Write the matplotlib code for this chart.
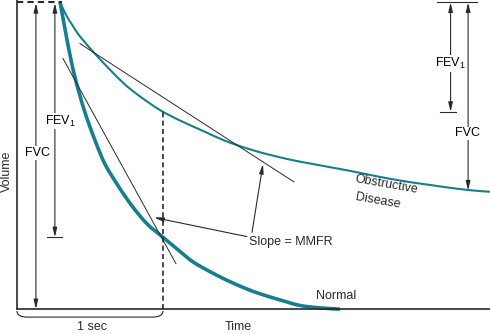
import matplotlib
matplotlib.use("Agg")
import matplotlib.pyplot as plt
from matplotlib.path import Path
from matplotlib.patches import PathPatch

plt.rcParams['font.family'] = ['Liberation Sans', 'DejaVu Sans']
plt.rcParams['mathtext.fontset'] = 'custom'
plt.rcParams['mathtext.rm'] = 'Liberation Sans'
plt.rcParams['mathtext.it'] = 'Liberation Sans'

# Volume-time curves (time in s, volume in L above residual)
normal_t = [0.295, 0.329, 0.363, 0.404, 0.466, 0.534, 0.603, 0.692, 0.788, 0.890,
            1.000, 1.116, 1.205, 1.322, 1.438, 1.562, 1.664, 1.801, 1.938, 2.075, 2.212]
normal_v = [5.00, 4.56, 4.14, 3.71, 3.20, 2.75, 2.36, 2.01, 1.68, 1.39,
            1.17, 0.94, 0.77, 0.61, 0.47, 0.34, 0.25, 0.15, 0.06, 0.02, 0.00]

obstr_t = [0.295, 0.336, 0.377, 0.418, 0.466, 0.521, 0.623, 0.733, 0.815, 0.897, 0.993,
           1.116, 1.274, 1.425, 1.596, 1.767, 1.938, 2.281, 2.555, 2.829, 3.082, 3.240]
obstr_v = [5.00, 4.79, 4.63, 4.48, 4.34, 4.19, 3.93, 3.67, 3.51, 3.37, 3.22,
           3.07, 2.90, 2.74, 2.60, 2.49, 2.40, 2.25, 2.12, 2.02, 1.94, 1.91]

# MMFR slope lines (start/end)
slope_normal_t = [0.315, 1.089]
slope_normal_v = [4.08, 0.74]
slope_obstr_t = [0.432, 1.897]
slope_obstr_v = [4.32, 2.07]

fvc = 5.0
fev1_normal = 1.17   # volume left at 1 s, normal
fev1_obstr = 3.21    # volume left at 1 s, obstructive
rv_obstr = 1.93

teal = '#167f8e'
ink = '#2a2a2a'


def smooth_path(xs, ys):
    # catmull-rom through the points, drawn as cubic bezier segments
    pts = list(zip(xs, ys))
    verts = [pts[0]]
    codes = [Path.MOVETO]
    for i in range(len(pts) - 1):
        p0 = pts[i - 1] if i > 0 else pts[i]
        p1, p2 = pts[i], pts[i + 1]
        p3 = pts[i + 2] if i + 2 < len(pts) else pts[i + 1]
        c1 = (p1[0] + (p2[0] - p0[0]) / 6, p1[1] + (p2[1] - p0[1]) / 6)
        c2 = (p2[0] - (p3[0] - p1[0]) / 6, p2[1] - (p3[1] - p1[1]) / 6)
        verts += [c1, c2, p2]
        codes += [Path.CURVE4] * 3
    return Path(verts, codes)


fig = plt.figure(figsize=(4.9, 3.34), dpi=100)
ax = fig.add_axes([0, 0, 1, 1])
ax.set_xlim(-0.116, 3.24)
ax.set_ylim(-0.405, 5.03)
ax.axis('off')

# axes lines
ax.plot([0, 0], [0, 5.03], color=ink, lw=1.2)
ax.plot([0, 3.24], [0, 0], color=ink, lw=1.2)

# curves
ax.add_patch(PathPatch(smooth_path(obstr_t, obstr_v), fc='none', ec=teal, lw=1.5))
ax.add_patch(PathPatch(smooth_path(normal_t, normal_v), fc='none', ec=teal, lw=2.6))
ax.plot(slope_normal_t, slope_normal_v, color=ink, lw=0.7)
ax.plot(slope_obstr_t, slope_obstr_v, color=ink, lw=0.7)

# dashed markers
ax.plot([0, 0.31], [fvc, fvc], color=ink, lw=1.5, ls=(0, (3, 2)))
ax.plot([1.0, 1.0], [0, fev1_obstr], color=ink, lw=1.2, ls=(0, (3, 2)))

arrow = dict(arrowstyle='<|-|>,head_length=0.55,head_width=0.13', color=ink, lw=0.8,
             shrinkA=0, shrinkB=0)

# left dimension arrows
ax.annotate('', xy=(0.13, 0.0), xytext=(0.13, fvc - 0.02), arrowprops=arrow)
ax.annotate('', xy=(0.26, fev1_normal), xytext=(0.26, fvc - 0.02), arrowprops=arrow)
ax.plot([0.205, 0.31], [fev1_normal, fev1_normal], color=ink, lw=0.8)
ax.text(0.144, 2.54, 'FVC', ha='center', va='center', fontsize=9,
        bbox=dict(fc='white', ec='none', pad=0.5))
ax.text(0.295, 3.06, 'FEV$_1$', ha='center', va='center', fontsize=9,
        bbox=dict(fc='white', ec='none', pad=0.5))

# right dimension arrows
ax.plot([2.88, 3.15], [fvc - 0.01, fvc - 0.01], color=ink, lw=0.8)
ax.annotate('', xy=(2.97, fev1_obstr), xytext=(2.97, fvc - 0.01), arrowprops=arrow)
ax.plot([2.90, 3.01], [fev1_obstr, fev1_obstr], color=ink, lw=0.8)
ax.annotate('', xy=(3.09, rv_obstr), xytext=(3.09, fvc - 0.01), arrowprops=arrow)
ax.text(2.966, 4.00, 'FEV$_1$', ha='center', va='center', fontsize=9,
        bbox=dict(fc='white', ec='none', pad=0.5))
ax.text(3.089, 2.86, 'FVC', ha='center', va='center', fontsize=9,
        bbox=dict(fc='white', ec='none', pad=0.5))

# slope annotation
head = dict(arrowstyle='-|>,head_length=0.55,head_width=0.13', color=ink, lw=0.8,
            shrinkA=0, shrinkB=0)
ax.annotate('', xy=(0.94, 1.49), xytext=(1.575, 1.18), arrowprops=head)
ax.annotate('', xy=(1.685, 2.36), xytext=(1.61, 1.25), arrowprops=head)
ax.text(1.589, 1.10, 'Slope = MMFR', ha='left', va='center', fontsize=9, color=ink)

# curve labels
ax.text(2.185, 0.21, 'Normal', ha='center', va='center', fontsize=9, color=ink)
ax.text(2.53, 2.03, 'Obstructive', ha='center', va='center', fontsize=9,
        rotation=-10, color=ink)
ax.text(2.47, 1.76, 'Disease', ha='center', va='center', fontsize=9,
        rotation=-10, color=ink)

# 1 second brace
verts = [(0, -0.03), (0.0, -0.13), (0.07, -0.13), (0.93, -0.13),
         (1.0, -0.13), (1.0, -0.03)]
codes = [Path.MOVETO, Path.CURVE3, Path.CURVE3, Path.LINETO, Path.CURVE3, Path.CURVE3]
ax.add_patch(PathPatch(Path(verts, codes), fc='none', ec=ink, lw=0.8))

ax.text(0.514, -0.29, '1 sec', ha='center', va='center', fontsize=9, color=ink)
ax.text(1.514, -0.29, 'Time', ha='center', va='center', fontsize=9, color=ink)
ax.text(-0.07, 2.25, 'Volume', ha='center', va='center', fontsize=9,
        rotation=90, color=ink)

fig.savefig('out.png', dpi=100)
